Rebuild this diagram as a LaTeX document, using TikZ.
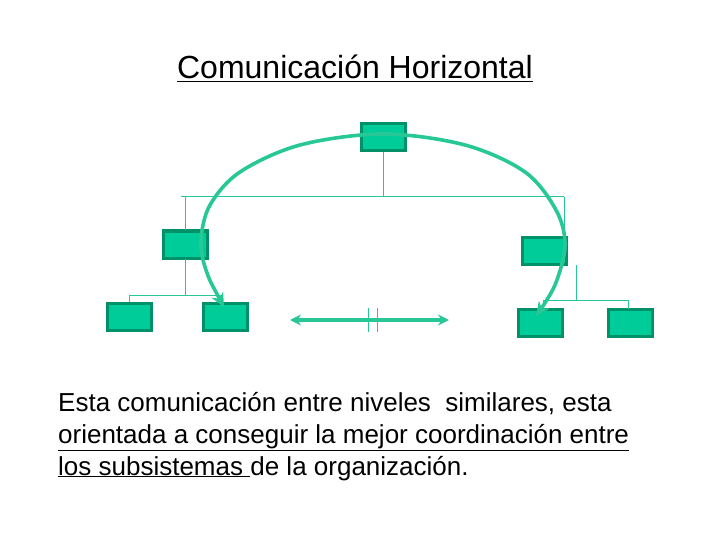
\documentclass[tikz,border=0pt]{standalone}
\usepackage{fontspec}
\setmainfont{Liberation Sans}
\usetikzlibrary{arrows.meta}
\definecolor{boxfill}{RGB}{0,204,153}
\definecolor{boxdraw}{RGB}{0,145,105}
\definecolor{lin}{RGB}{40,200,150}
\begin{document}
\begin{tikzpicture}[x=1pt,y=-1pt,
  org/.style={draw=boxdraw,fill=boxfill,line width=3pt,minimum width=44pt,minimum height=27pt,inner sep=0pt},
  tree/.style={draw=lin,line width=1pt},
  arc/.style={draw=lin,line width=3.6pt},
  txt/.style={anchor=base west,inner sep=0pt,font=\fontsize{26}{30}\selectfont}]
\useasboundingbox (0,0) rectangle (720,540);
\node[org] (t) at (383,137.5) {};
\node[org] (l) at (185.5,244.5) {};
\node[org] (r) at (544.5,250.5) {};
\node[org] (l1) at (129,316.5) {};
\node[org] (l2) at (225.5,316.5) {};
\node[org] (r1) at (540,323) {};
\node[org] (r2) at (630,323) {};
\draw[tree] (t.south) -- (383,197);
\draw[tree] (181,197) -- (564,197);
\draw[tree] (185,197) -- (185,230);
\draw[tree] (564,197) -- (564,237);
\draw[tree] (185,259) -- (185,295);
\draw[tree] (129,295) -- (220,295);
\draw[tree] (129,295) -- (l1.north);
\draw[tree] (220,295) -- (220,303);
\draw[tree] (576,265) -- (576,300);
\draw[tree] (543,300) -- (628,300);
\draw[tree] (543,300) -- (543,309);
\draw[tree] (628,300) -- (628,309);
\draw[arc,{Stealth[length=14pt,width=13pt,fill=boxdraw]}-{Stealth[length=14pt,width=13pt,fill=boxdraw]}]
  plot[smooth,tension=0.55] coordinates {(224,307) (206,270) (201,240) (210,205) (240,172) (300,145) (383,134) (465,145) (525,172) (556,210) (565,245) (555,285) (536,316)};
\coordinate (da) at (290,320); \coordinate (db) at (449,320);
\draw[lin,line width=3.2pt,{Stealth[length=11pt,width=11pt]}-{Stealth[length=11pt,width=11pt]}] (da) -- (db);
\draw[tree] (368,308) -- (368,332);
\draw[tree] (377,308) -- (377,332);
\node[font=\fontsize{32}{36}\selectfont,inner sep=0pt,anchor=base] (title) at (355,79) {\underline{Comunicación Horizontal}};
\node[txt] (a) at (58,411) {Esta comunicación entre niveles\ \ similares, esta};
\node[txt] (b) at (58,443) {\underline{orientada a conseguir la mejor coordinación entre}};
\node[txt] (c) at (58,475) {\underline{los subsistemas\ }de la organización.};
\end{tikzpicture}
\end{document}
